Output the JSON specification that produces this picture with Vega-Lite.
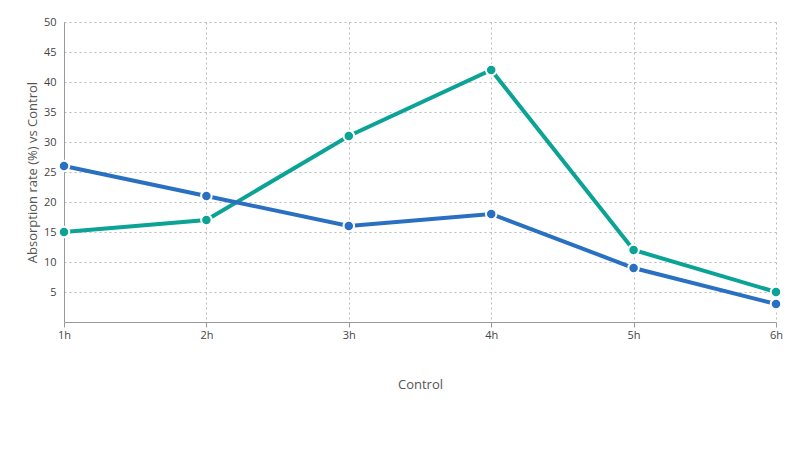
{
  "$schema": "https://vega.github.io/schema/vega-lite/v6.json",
  "width": 712,
  "height": 300,
  "autosize": {"type": "none"},
  "padding": {"left": 64, "top": 22, "right": 24, "bottom": 128},
  "config": {
    "font": "Open Sans",
    "view": {"stroke": null},
    "axis": {"labelFont": "Open Sans", "titleFont": "Open Sans", "labelColor": "#444", "titleColor": "#555", "labelFontSize": 11, "titleFontSize": 13, "titleFontWeight": "normal", "gridDash": [2, 3], "gridColor": "#bbb", "domainColor": "#999", "tickColor": "#999"}
  },
  "data": {
    "values": [
      {"time": "1h", "series": "Zinco SimbiΩ", "value": 15},
      {"time": "2h", "series": "Zinco SimbiΩ", "value": 17},
      {"time": "3h", "series": "Zinco SimbiΩ", "value": 31},
      {"time": "4h", "series": "Zinco SimbiΩ", "value": 42},
      {"time": "5h", "series": "Zinco SimbiΩ", "value": 12},
      {"time": "6h", "series": "Zinco SimbiΩ", "value": 5},
      {"time": "1h", "series": "Zinco", "value": 26},
      {"time": "2h", "series": "Zinco", "value": 21},
      {"time": "3h", "series": "Zinco", "value": 16},
      {"time": "4h", "series": "Zinco", "value": 18},
      {"time": "5h", "series": "Zinco", "value": 9},
      {"time": "6h", "series": "Zinco", "value": 3}
    ]
  },
  "encoding": {
    "x": {"field": "time", "type": "ordinal", "scale": {"type": "point", "padding": 0}, "title": "Control",
      "axis": {"labelAngle": 0, "grid": true, "titlePadding": 38}},
    "y": {"field": "value", "type": "quantitative", "scale": {"domain": [0, 50]}, "title": "Absorption rate (%) vs Control",
      "axis": {"values": [5, 10, 15, 20, 25, 30, 35, 40, 45, 50], "ticks": false, "labelPadding": 8, "domain": true}},
    "color": {"field": "series", "type": "nominal",
      "scale": {"domain": ["Zinco SimbiΩ", "Zinco"], "range": ["#0aa395", "#2a70c2"]},
      "legend": {"orient": "bottom", "direction": "vertical", "title": null, "symbolType": "circle", "symbolSize": 120, "labelFontSize": 13, "labelColor": "#222", "offset": 70}}
  },
  "layer": [
    {"mark": {"type": "line", "strokeWidth": 4}},
    {"mark": {"type": "point", "filled": true, "size": 110, "stroke": "white", "strokeWidth": 2, "opacity": 1}}
  ]
}
